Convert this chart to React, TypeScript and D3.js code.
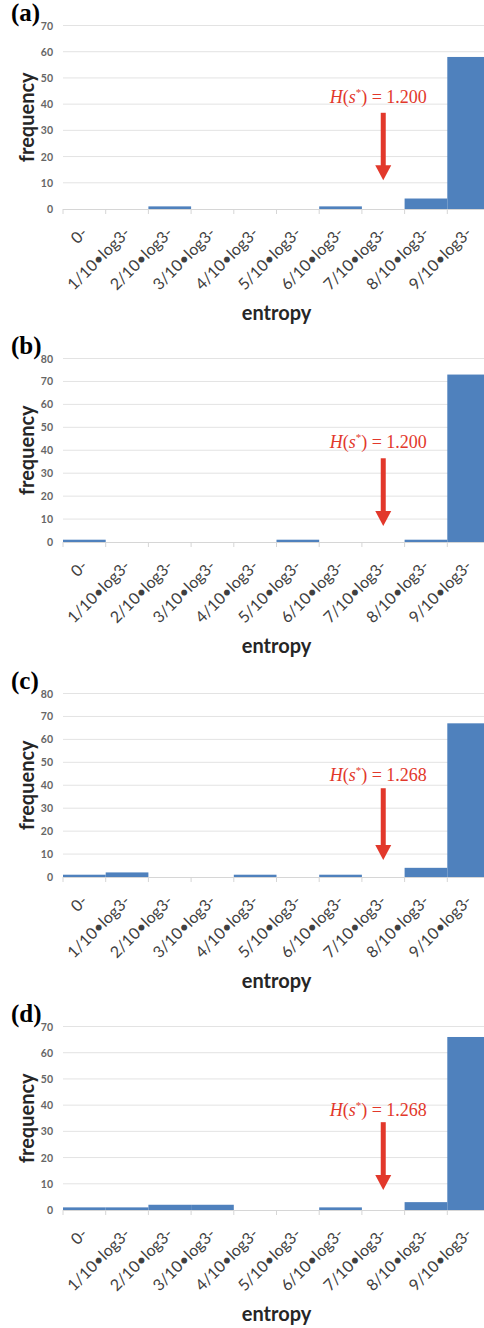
import React, { useEffect, useRef } from "react";
import * as d3 from "d3";

// bins of the entropy histogram
const categories = [
  "0-",
  "1/10•log3-",
  "2/10•log3-",
  "3/10•log3-",
  "4/10•log3-",
  "5/10•log3-",
  "6/10•log3-",
  "7/10•log3-",
  "8/10•log3-",
  "9/10•log3-",
];

const freqA = [0, 0, 1, 0, 0, 0, 1, 0, 4, 58];
const freqB = [1, 0, 0, 0, 0, 1, 0, 0, 1, 73];
const freqC = [1, 2, 0, 0, 1, 0, 1, 0, 4, 67];
const freqD = [1, 1, 2, 2, 0, 0, 1, 0, 3, 66];

const panelNames = ["(a)", "(b)", "(c)", "(d)"];
const yMaxes = [70, 80, 80, 70];
const hValues = ["1.200", "1.200", "1.268", "1.268"];

// arrow annotation, in frequency units
const arrowBin = "7/10•log3-";
const arrowTop = [36.7, 36.5, 38.7, 33.5];
const arrowTip = [11, 7, 7.4, 7.6];
const labelAt = [40.5, 41, 42, 36];

const W = 484;
const H = 1328;
const zeros = [209, 542, 877, 1210];
const plotH = 183.5;
const left = 63;
const right = 490;

const blue = "#4F81BD";
const red = "#E2382B";
const grid = "#e3e3e3";

export default function App() {
  const ref = useRef<SVGSVGElement | null>(null);

  useEffect(() => {
    if (ref.current == null) return;
    const svg = d3.select(ref.current);
    svg.selectAll("*").remove();

    const all = [freqA, freqB, freqC, freqD];

    const x = d3.scaleBand().domain(categories).range([left, right]).padding(0);

    all.forEach((data, i) => {
      const zero = zeros[i];
      const y = d3
        .scaleLinear()
        .domain([0, yMaxes[i]])
        .range([zero, zero - plotH]);
      const g = svg.append("g");

      // gridlines
      const ticks = d3.range(0, yMaxes[i] + 1, 10);
      g.selectAll("line.grid")
        .data(ticks.filter((t) => t > 0))
        .enter()
        .append("line")
        .attr("x1", left)
        .attr("x2", right)
        .attr("y1", (d) => y(d))
        .attr("y2", (d) => y(d))
        .attr("stroke", grid)
        .attr("stroke-width", 1);

      // y tick labels
      g.selectAll("text.ytick")
        .data(ticks)
        .enter()
        .append("text")
        .attr("x", 53)
        .attr("y", (d) => y(d) + 4)
        .attr("text-anchor", "end")
        .attr("font-family", "Lato, sans-serif")
        .attr("font-weight", "bold")
        .attr("font-size", 10.5)
        .attr("fill", "#666")
        .text((d) => d);

      // bars
      g.selectAll("rect")
        .data(data)
        .enter()
        .append("rect")
        .attr("x", (d, j) => x(categories[j]) || 0)
        .attr("y", (d) => y(d))
        .attr("width", x.bandwidth())
        .attr("height", (d) => zero - y(d))
        .attr("fill", blue);

      // x axis line + ticks at bin edges
      g.append("line")
        .attr("x1", left)
        .attr("x2", right)
        .attr("y1", zero + 0.5)
        .attr("y2", zero + 0.5)
        .attr("stroke", "#d6d6d6");
      g.selectAll("line.xtick")
        .data(d3.range(categories.length + 1))
        .enter()
        .append("line")
        .attr("x1", (j) => left + j * x.step())
        .attr("x2", (j) => left + j * x.step())
        .attr("y1", zero)
        .attr("y2", zero + 5)
        .attr("stroke", "#d6d6d6");

      // x tick labels, rotated
      g.selectAll("text.xlab")
        .data(categories)
        .enter()
        .append("text")
        .attr("transform", (d) => {
          const cx = (x(d) || 0) + x.bandwidth() / 2 + 4;
          return "translate(" + cx + "," + (zero + 25) + ")rotate(-45)";
        })
        .attr("text-anchor", "end")
        .attr("font-family", "Lato, sans-serif")
        .attr("font-size", 16)
        .attr("fill", "#404040")
        .text((d) => d);

      // axis titles
      g.append("text")
        .attr("x", (left + right) / 2)
        .attr("y", zero + 111)
        .attr("text-anchor", "middle")
        .attr("font-family", "Lato, sans-serif")
        .attr("font-weight", "bold")
        .attr("font-size", 20)
        .attr("fill", "#262626")
        .text("entropy");
      g.append("text")
        .attr("transform", "translate(34," + (zero - plotH / 2) + ")rotate(-90)")
        .attr("text-anchor", "middle")
        .attr("font-family", "Lato, sans-serif")
        .attr("font-weight", "bold")
        .attr("font-size", 20)
        .attr("fill", "#262626")
        .text("frequency");

      // panel letter
      g.append("text")
        .attr("x", 11)
        .attr("y", zero - plotH - 5)
        .attr("font-family", "'Liberation Serif', serif")
        .attr("font-weight", "bold")
        .attr("font-size", 25)
        .attr("fill", "#000")
        .text(panelNames[i]);

      // red arrow
      const ax = (x(arrowBin) || 0) + x.bandwidth() / 2;
      const yTop = y(arrowTop[i]);
      const yTip = y(arrowTip[i]);
      g.append("rect")
        .attr("x", ax - 2.5)
        .attr("y", yTop)
        .attr("width", 5)
        .attr("height", yTip - yTop - 14)
        .attr("fill", red);
      g.append("path")
        .attr("d", d3.line()([
          [ax - 8, yTip - 15],
          [ax + 8, yTip - 15],
          [ax, yTip],
        ]) + "Z")
        .attr("fill", red);

      const lab = g
        .append("text")
        .attr("x", ax - 5)
        .attr("y", y(labelAt[i]))
        .attr("text-anchor", "middle")
        .attr("font-family", "'Liberation Serif', serif")
        .attr("font-size", 18)
        .attr("fill", red);
      lab.append("tspan").attr("font-style", "italic").text("H");
      lab.append("tspan").text("(");
      lab.append("tspan").attr("font-style", "italic").text("s");
      lab.append("tspan").attr("font-size", 11).attr("dy", -7).text("*");
      lab.append("tspan").attr("dy", 7).text(") = " + hValues[i]);
    });
  }, []);

  return (
    <svg
      ref={ref}
      width={W}
      height={H}
      style={{ position: "absolute", left: 0, top: 0, background: "#fff" }}
    ></svg>
  );
}
